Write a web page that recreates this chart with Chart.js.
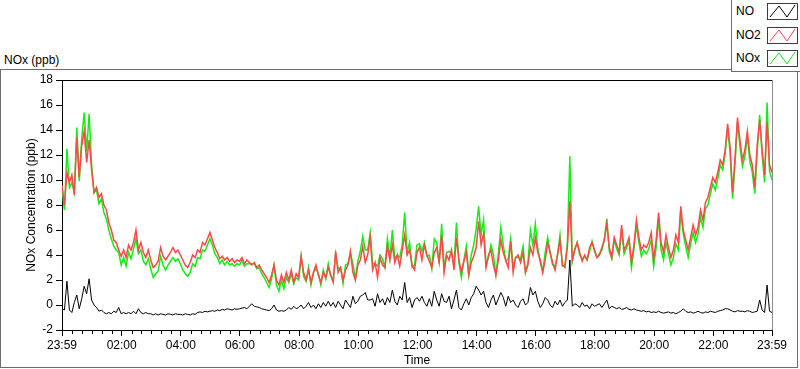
<!DOCTYPE html>
<html>
<head>
<meta charset="utf-8">
<title>NOx (ppb)</title>
<script src="https://cdn.jsdelivr.net/npm/chart.js@4/dist/chart.umd.min.js"></script>
<style>
  html, body { margin: 0; padding: 0; background: #fff; }
  body { width: 800px; height: 369px; position: relative; overflow: hidden;
         font-family: 'Liberation Sans', Arial, sans-serif; font-size: 12px; color: #000; }
  #graphTitle { position: absolute; left: 4px; top: 53px; line-height: 14px; }
  #frame { position: absolute; left: 0; top: 69px; width: 796px; height: 297px; border: 1px solid #6d6d6d; }
  #chartBox { position: absolute; left: 0; top: 0; width: 800px; height: 369px; }
  #legend { position: absolute; left: 731px; top: -1px; width: 70px; height: 71px;
            border: 1px solid #6d6d6d; background: #fff; }
  #legend ul { list-style: none; margin: 0; padding: 0; }
  #legend li { position: absolute; left: 0; width: 68px; height: 17px; }
  #legend span { position: absolute; left: 4px; top: 0; line-height: 17px; }
  #legend svg { position: absolute; left: 35px; top: 0; }
</style>
</head>
<body>
<div id="graphTitle">NOx (ppb)</div>
<div id="frame"></div>
<div id="chartBox"><canvas id="myChart" width="800" height="369"></canvas></div>
<div id="legend"></div>
<script>
// 5分ごとの値 (23:59 から 24時間)
const stepMinutes = 5

const NO = [
  -0.3, -0.4, 1.9, -0.4, -0.6, 0.2, 0.8, -0.3, 0.5, 1.5, 0.9, 2.1,
  0.4, 0.0, -0.2, -0.5, -0.4, -0.6, -0.7, -0.6, -0.7, -0.5, -0.6, -0.2,
  -0.7, -0.6, -0.7, -0.6, -0.7, -0.5, -0.7, -0.3, -0.6, -0.7, -0.6, -0.7,
  -0.7, -0.8, -0.7, -0.8, -0.7, -0.75, -0.8, -0.7, -0.75, -0.8, -0.7, -0.75,
  -0.75, -0.8, -0.7, -0.75, -0.8, -0.7, -0.75, -0.6, -0.55, -0.6, -0.5, -0.55,
  -0.5, -0.45, -0.5, -0.4, -0.45, -0.35, -0.4, -0.3, -0.35, -0.4, -0.3, -0.35,
  -0.3, -0.25, -0.2, -0.3, -0.1, 0.1, -0.1, -0.15, -0.2, -0.3, -0.35, -0.4,
  -0.45, -0.3, 0.0, -0.4, -0.5, -0.45, -0.5, -0.4, -0.2, -0.35, -0.1, -0.3,
  -0.2, 0.0, -0.3, -0.1, 0.2, -0.2, 0.0, -0.3, 0.1, -0.2, 0.2, -0.1,
  0.3, -0.1, 0.2, -0.2, 0.3, 0.0, -0.3, 0.4, 0.1, -0.2, 0.7, 0.1,
  0.3, 0.7, 0.8, 1.0, 0.4, 0.4, 0.5, -0.1, 0.9, 0.2, 0.5, 0.0,
  0.6, 0.2, 1.2, 0.3, 0.0, 0.7, 0.4, 1.8, 0.2, 0.6, -0.2, 0.4,
  0.6, 0.3, 0.7, 0.2, -0.1, 0.5, -0.1, 1.1, 0.4, -0.1, 0.9, 0.3,
  0.2, 0.7, -0.3, 0.4, 1.2, -0.2, -0.4, 0.1, 0.5, 0.0, 0.6, 0.9,
  1.5, 1.2, 0.8, 1.1, 0.2, -0.2, 0.4, 0.8, 0.0, 0.5, 1.0, 0.6,
  -0.1, 0.7, 0.2, 0.4, 0.0, -0.2, 0.3, 0.5, 0.0, 0.2, 1.4, 0.8,
  1.1, 0.3, -0.2, 0.1, 0.6, 0.4, 0.0, -0.2, 0.3, 0.0, 0.4, -0.1,
  0.2, 0.4, 3.6, -0.1, 0.1, 0.0, -0.2, 0.2, -0.1, 0.0, -0.3, 0.1,
  -0.1, 0.0, 0.1, -0.2, 0.1, 0.4, -0.3, -0.1, -0.2, -0.3, -0.2, -0.35,
  -0.3, -0.2, -0.35, -0.4, -0.3, -0.4, -0.45, -0.5, -0.45, -0.55, -0.5, -0.6,
  -0.55, -0.6, -0.5, -0.6, -0.65, -0.6, -0.55, -0.65, -0.6, -0.7, -0.6, -0.5,
  -0.3, -0.5, -0.6, -0.55, -0.65, -0.6, -0.5, -0.6, -0.65, -0.55, -0.6, -0.5,
  -0.55, -0.6, -0.5, -0.45, -0.4, -0.3, -0.3, -0.4, -0.5, -0.55, -0.45, -0.5,
  -0.5, -0.55, -0.45, -0.5, -0.6, -0.55, -0.5, 0.4, -0.4, -0.6, 1.6, -0.5, -0.6,
]

const NO2 = [
  9.6, 8.0, 10.6, 9.8, 10.4, 8.8, 13.4, 10.2, 12.8, 13.9, 11.4, 13.2,
  10.8, 9.0, 9.4, 8.6, 8.9, 8.0, 7.6, 6.6, 6.0, 5.2, 5.0, 4.4,
  3.9, 4.4, 3.8, 4.8, 4.4, 5.0, 6.0, 4.4, 5.0, 4.2, 3.8, 4.4,
  3.6, 3.0, 3.2, 3.5, 4.6, 3.9, 3.6, 3.9, 4.2, 4.6, 4.2, 4.4,
  4.0, 3.6, 3.2, 3.0, 3.4, 4.0, 3.8, 4.4, 4.2, 5.0, 4.8, 5.3,
  5.8, 5.2, 4.6, 4.2, 3.7, 3.9, 3.6, 3.8, 3.5, 3.7, 3.4, 3.6,
  3.5, 3.8, 3.3, 3.6, 3.4, 3.2, 3.4, 3.0, 3.2, 2.8, 2.5, 2.2,
  1.8, 2.4, 3.2, 2.0, 1.6, 2.4, 1.8, 2.6, 2.0, 2.8, 1.8, 2.5,
  2.2, 3.9, 2.6, 2.0, 2.8, 1.8, 2.6, 3.2, 2.4, 1.8, 2.6, 2.2,
  3.0, 2.4, 1.8, 4.3, 2.6, 3.0, 2.0, 2.8, 3.2, 4.3, 2.6, 2.0,
  3.2, 3.6, 4.7, 3.4, 4.0, 5.4, 2.8, 3.4, 2.2, 3.8, 3.2, 3.0,
  4.7, 3.6, 4.8, 3.4, 4.0, 3.1, 4.4, 5.6, 4.0, 4.4, 3.2, 2.8,
  4.2, 4.6, 3.6, 4.8, 4.0, 3.5, 3.0, 4.2, 4.6, 3.4, 5.6, 2.6,
  4.0, 3.6, 4.4, 2.8, 5.4, 3.6, 2.6, 3.5, 4.2, 2.4, 3.4, 3.9,
  4.6, 6.7, 4.8, 5.7, 3.0, 4.0, 4.4, 3.2, 2.4, 3.6, 5.2, 4.2,
  3.6, 3.0, 5.1, 2.6, 3.8, 4.0, 3.4, 4.2, 2.6, 3.2, 4.6, 4.0,
  5.4, 4.2, 3.6, 2.6, 3.6, 5.0, 4.2, 3.4, 2.8, 4.0, 5.2, 3.2,
  3.0, 4.6, 8.3, 3.6, 4.4, 5.0, 4.2, 3.5, 4.0, 3.6, 4.6, 5.0,
  4.4, 3.8, 4.0, 4.6, 5.2, 6.5, 4.6, 3.8, 5.4, 4.8, 4.2, 6.4,
  4.4, 4.8, 5.4, 3.4, 4.8, 6.8, 5.4, 4.4, 4.8, 4.6, 5.0, 5.8,
  3.6, 5.2, 7.4, 5.0, 4.2, 5.6, 4.6, 3.8, 4.4, 5.6, 5.0, 7.9,
  6.0, 5.2, 4.4, 5.4, 6.4, 5.6, 6.2, 7.6, 6.8, 8.2, 8.6, 9.4,
  10.2, 9.8, 10.6, 11.6, 11.2, 12.4, 14.5, 12.6, 9.0, 11.8, 15.0, 13.2,
  11.6, 12.4, 13.9, 12.0, 11.2, 9.4, 12.8, 14.8, 12.4, 10.4, 14.6, 11.2, 10.6,
]

const NOx = [
  9.3, 7.6, 12.5, 9.4, 9.8, 9.0, 14.2, 9.9, 13.3, 15.4, 12.3, 15.3,
  11.2, 9.0, 9.2, 8.1, 8.5, 7.4, 6.9, 6.0, 5.3, 4.7, 4.4, 4.2,
  3.2, 3.8, 3.1, 4.2, 3.7, 4.5, 5.3, 4.1, 4.4, 3.5, 3.2, 3.7,
  2.9, 2.2, 2.5, 2.7, 3.9, 3.2, 2.8, 3.2, 3.5, 3.8, 3.5, 3.7,
  3.3, 2.8, 2.5, 2.3, 2.6, 3.3, 3.1, 3.8, 3.7, 4.4, 4.3, 4.8,
  5.3, 4.8, 4.1, 3.8, 3.3, 3.6, 3.2, 3.5, 3.2, 3.3, 3.1, 3.3,
  3.2, 3.6, 3.1, 3.3, 3.3, 3.3, 3.3, 2.9, 3.0, 2.5, 2.2, 1.8,
  1.4, 2.1, 3.2, 1.6, 1.1, 2.0, 1.3, 2.2, 1.8, 2.5, 1.7, 2.2,
  2.0, 3.9, 2.3, 1.9, 3.0, 1.6, 2.6, 2.9, 2.5, 1.6, 2.8, 2.1,
  3.3, 2.3, 2.0, 4.1, 2.9, 3.0, 1.7, 3.2, 3.3, 4.1, 3.3, 2.1,
  3.5, 4.3, 5.5, 4.4, 4.4, 5.8, 3.3, 3.3, 3.1, 4.0, 3.7, 3.0,
  5.3, 3.8, 6.0, 3.7, 4.0, 3.8, 4.8, 7.4, 4.2, 5.0, 3.0, 3.2,
  4.8, 4.9, 4.3, 5.0, 3.9, 4.0, 2.9, 5.3, 5.0, 3.3, 6.5, 2.9,
  4.2, 4.3, 4.1, 3.2, 6.6, 3.4, 2.2, 3.6, 4.7, 2.4, 4.0, 4.8,
  6.1, 7.9, 5.6, 6.8, 3.2, 3.8, 4.8, 4.0, 2.4, 4.1, 6.2, 4.8,
  3.5, 3.7, 5.3, 3.0, 3.8, 3.8, 3.7, 4.7, 2.6, 3.4, 6.0, 4.8,
  6.5, 4.5, 3.4, 2.7, 4.2, 5.4, 4.2, 3.2, 3.1, 4.0, 5.6, 3.1,
  3.2, 5.0, 11.9, 3.5, 4.5, 5.0, 4.0, 3.7, 3.9, 3.6, 4.3, 5.1,
  4.3, 3.8, 4.1, 4.4, 5.3, 6.9, 4.3, 3.7, 5.2, 4.5, 4.0, 6.1,
  4.1, 4.6, 5.1, 3.0, 4.5, 6.4, 5.0, 3.9, 4.4, 4.1, 4.5, 5.2,
  3.1, 4.6, 6.9, 4.4, 3.6, 5.0, 4.1, 3.2, 3.8, 4.9, 4.4, 7.4,
  5.7, 4.7, 3.8, 4.9, 5.8, 5.0, 5.7, 7.0, 6.2, 7.7, 8.0, 8.9,
  9.7, 9.2, 10.1, 11.2, 10.8, 12.1, 14.2, 12.2, 8.5, 11.3, 14.6, 12.7,
  11.1, 11.9, 13.5, 11.5, 10.6, 8.9, 12.3, 15.2, 12.0, 9.8, 16.2, 10.7, 10.0,
]

// 横軸: 23:59 からの経過分
const minutes = NO.map((el, i) => i * stepMinutes)

// 目盛り
const tickMinutes = [0, 121, 241, 361, 481, 601, 721, 841, 961, 1081, 1201, 1321, 1440]
const tickLabels = ['23:59', '02:00', '04:00', '06:00', '08:00', '10:00', '12:00',
                    '14:00', '16:00', '18:00', '20:00', '22:00', '23:59']
const yTicks = [-2, 0, 2, 4, 6, 8, 10, 12, 14, 16, 18]

Chart.defaults.font.family = "'Liberation Sans', Arial, sans-serif"
Chart.defaults.font.size = 12
Chart.defaults.color = '#000'

// 枠線と細かい目盛り
const frameTicks = {
  id: 'frameTicks',
  afterDraw(chart) {
    const ctx = chart.ctx
    const a = chart.chartArea
    const x = chart.scales.x
    ctx.save()
    ctx.lineWidth = 1
    ctx.strokeStyle = '#000'
    ctx.beginPath()
    for (let m = 21; m < 1440; m += 20) {
      if (tickMinutes.includes(m)) continue
      const px = Math.round(x.getPixelForValue(m)) + 0.5
      ctx.moveTo(px, a.bottom)
      ctx.lineTo(px, a.bottom + 4)
    }
    const top = Math.round(a.top) + 0.5
    ctx.moveTo(a.left, top)
    ctx.lineTo(a.right, top)
    ctx.stroke()
    ctx.strokeStyle = '#8c8c8c'
    ctx.beginPath()
    const right = Math.round(a.right) + 0.5
    ctx.moveTo(right, a.top)
    ctx.lineTo(right, a.bottom)
    ctx.stroke()
    ctx.restore()
  },
}

// 凡例 (HTML)
const htmlLegend = {
  id: 'htmlLegend',
  afterUpdate(chart) {
    const box = document.getElementById('legend')
    const tops = [3, 27, 50]
    box.innerHTML = ''
    const ul = document.createElement('ul')
    chart.data.datasets.forEach((ds, i) => {
      const li = document.createElement('li')
      li.style.top = tops[i] + 'px'
      li.innerHTML = '<span>' + ds.label + '</span>' +
        '<svg width="31" height="17"><rect x="0.5" y="0.5" width="30" height="16" fill="#fff" stroke="#3c3c3c"/>' +
        '<polyline points="3,14 12,3 20,14 28,2" fill="none" stroke="' + ds.borderColor + '" stroke-width="1"/></svg>'
      ul.appendChild(li)
    })
    box.appendChild(ul)
  },
}

const ctx = document.getElementById('myChart').getContext('2d')
const myChart = new Chart(ctx, {
  type: 'line',
  data: {
    labels: minutes,
    datasets: [
      { label: 'NO', data: NO, borderColor: '#000000', borderWidth: 1 },
      { label: 'NO2', data: NO2, borderColor: '#ff4848' },
      { label: 'NOx', data: NOx, borderColor: '#14ee14' },
    ],
  },
  options: {
    responsive: false,
    animation: false,
    layout: { padding: { left: 0, top: 80, right: 28, bottom: 0 } },
    elements: {
      line: { borderWidth: 1.5, tension: 0 },
      point: { radius: 0, hoverRadius: 0 },
    },
    plugins: {
      legend: { display: false },
      tooltip: { enabled: false },
    },
    scales: {
      x: {
        type: 'linear',
        min: 0,
        max: 1440,
        afterBuildTicks: (s) => { s.ticks = tickMinutes.map((v) => ({ value: v })) },
        afterFit: (s) => { s.height = 39 },
        ticks: {
          autoSkip: false,
          maxRotation: 0,
          padding: 2,
          callback: (v, i) => tickLabels[i],
        },
        grid: { drawOnChartArea: false, tickLength: 6, tickColor: '#000' },
        border: { color: '#000' },
        title: { display: true, text: 'Time', padding: { top: 0, bottom: 1 } },
      },
      y: {
        min: -2,
        max: 18,
        afterBuildTicks: (s) => { s.ticks = yTicks.map((v) => ({ value: v })) },
        afterFit: (s) => { s.width = 62 },
        ticks: { padding: 3 },
        grid: { drawOnChartArea: false, tickLength: 6, tickColor: '#000' },
        border: { color: '#000' },
        title: { display: true, text: 'NOx Concentration (ppb)', padding: { top: 24, bottom: 0 } },
      },
    },
  },
  plugins: [frameTicks, htmlLegend],
})
</script>
</body>
</html>
